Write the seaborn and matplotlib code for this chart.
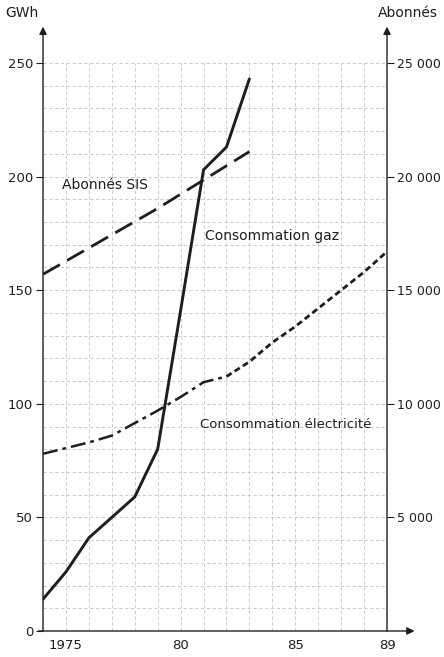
import matplotlib
matplotlib.use("Agg")
import matplotlib.pyplot as plt
import seaborn as sns
import pandas as pd

# Consommation gaz (GWh, échelle de gauche)
gaz_annees = [1974, 1975, 1976, 1977, 1978, 1979, 1980, 1981, 1982, 1983]
gaz_gwh = [14, 26, 41, 50, 59, 80, 141, 203, 213, 243]

# Abonnés SIS (échelle de droite)
sis_annees = [1974, 1979, 1983]
sis_abonnes = [15700, 18600, 21100]

# Consommation électricité (GWh) : réalisé puis prévision
elec_annees = [1974, 1975, 1976, 1977, 1978, 1979, 1980, 1981, 1982]
elec_gwh = [78, 80.5, 83, 86, 91.5, 97, 103, 109.5, 112]
prev_annees = [1982, 1983, 1984, 1985, 1986, 1987, 1988, 1989]
prev_gwh = [112, 118.5, 127, 134, 142, 150, 158, 167]

x_ticks = [1975, 1980, 1985, 1989]
x_labels = ["1975", "80", "85", "89"]
gwh_ticks = [0, 50, 100, 150, 200, 250]
ab_ticks = [5000, 10000, 15000, 20000, 25000]
ab_labels = ["5 000", "10 000", "15 000", "20 000", "25 000"]

sns.set_style("white")
plt.rcParams["font.family"] = ["DejaVu Sans"]
plt.rcParams["font.size"] = 10
ink = "#1e1e1e"

fig = plt.figure(figsize=(4.44, 6.57), dpi=100)
ax = fig.add_axes([43 / 444, 26 / 657, 344 / 444, 568 / 657])
ax2 = ax.twinx()

# grid (dashed, faint)
for yr in range(1975, 1989):
    ax.plot([yr, yr], [0, 250], color="#c4c4c4", lw=0.6, ls=(0, (4, 3)), zorder=0)
for g in range(10, 251, 10):
    ax.plot([1974, 1989], [g, g], color="#c4c4c4", lw=0.6, ls=(0, (4, 3)), zorder=0)

gaz = pd.DataFrame({"annee": gaz_annees, "gwh": gaz_gwh})
elec = pd.DataFrame({"annee": elec_annees, "gwh": elec_gwh})
prev = pd.DataFrame({"annee": prev_annees, "gwh": prev_gwh})
sis = pd.DataFrame({"annee": sis_annees, "abonnes": sis_abonnes})

sns.lineplot(data=gaz, x="annee", y="gwh", ax=ax, color=ink, lw=2.1)
sns.lineplot(data=elec, x="annee", y="gwh", ax=ax, color=ink, lw=1.8,
             linestyle=(0, (6, 2, 1.5, 2)))
sns.lineplot(data=prev, x="annee", y="gwh", ax=ax, color=ink, lw=2.0,
             linestyle=(0, (2.2, 1.3)))
sns.lineplot(data=sis, x="annee", y="abonnes", ax=ax2, color=ink, lw=2.0,
             linestyle=(0, (7, 3)))

ax.set_xlim(1974, 1989)
ax.set_ylim(0, 250)
ax2.set_ylim(0, 25000)
ax.set_xlabel("")
ax.set_ylabel("")
ax2.set_ylabel("")

for a in (ax, ax2):
    for s in a.spines.values():
        s.set_visible(False)

ax.set_xticks(x_ticks)
ax.set_xticklabels(x_labels)
ax.set_yticks(gwh_ticks)
ax.tick_params(axis="x", length=0, pad=6, colors=ink, labelsize=9.5)
ax.tick_params(axis="y", length=5, width=0.8, pad=2, colors=ink, left=True, labelsize=9.5)
ax2.set_yticks(ab_ticks)
ax2.set_yticklabels(ab_labels)
ax2.tick_params(axis="y", length=5, width=0.8, pad=2, colors=ink, right=True, labelsize=9)

# axes with arrows
arrow = dict(arrowstyle="-|>", color=ink, lw=1.0, mutation_scale=11, shrinkA=0, shrinkB=0)
ax.annotate("", xy=(1974, 266), xytext=(1974, 0), arrowprops=arrow, annotation_clip=False)
ax.annotate("", xy=(1989, 266), xytext=(1989, 0), arrowprops=arrow, annotation_clip=False)
ax.annotate("", xy=(1990.2, 0), xytext=(1973.8, 0), arrowprops=arrow, annotation_clip=False)

ax.text(1974.85, 196.5, "Abonnés SIS", color=ink, va="center", ha="left")
ax.text(1981.05, 174, "Consommation gaz", color=ink, va="center", ha="left")
ax.text(1980.85, 91, "Consommation électricité", color=ink, va="center", ha="left",
        fontsize=9.5)

fig.text(22 / 444, 1 - 13 / 657, "GWh", color=ink, ha="center", va="center")
fig.text(408 / 444, 1 - 13 / 657, "Abonnés", color=ink, ha="center", va="center")

fig.savefig("out.png", dpi=100)
